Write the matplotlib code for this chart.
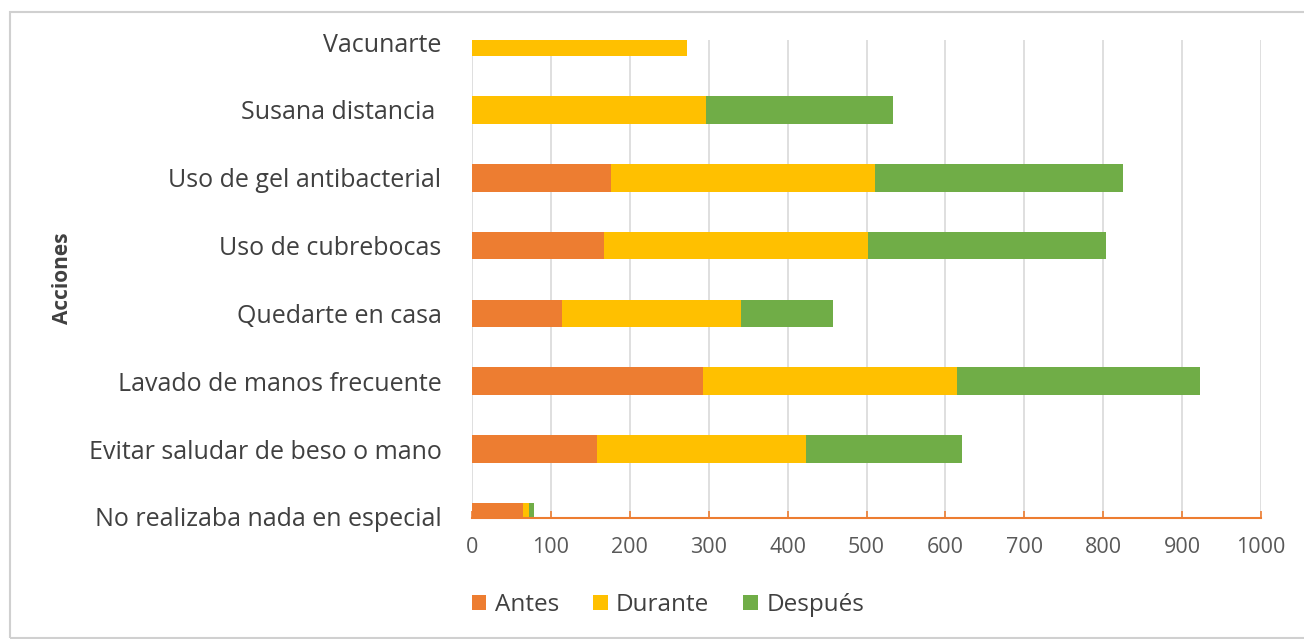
import matplotlib
matplotlib.use("Agg")
import matplotlib.pyplot as plt
from matplotlib.patches import Rectangle
import numpy as np

categories = ["No realizaba nada en especial", "Evitar saludar de beso o mano",
              "Lavado de manos frecuente", "Quedarte en casa", "Uso de cubrebocas",
              "Uso de gel antibacterial", "Susana distancia ", "Vacunarte"]
antes = [65, 158, 293, 114, 167, 176, 0, 0]
durante = [7, 265, 322, 227, 335, 335, 297, 272]
despues = [7, 198, 308, 117, 301, 314, 237, 0]
series_names = ["Antes", "Durante", "Después"]
colors = ["#ED7D31", "#FFC000", "#70AD47"]
xticks = list(range(0, 1001, 100))

plt.rcParams['font.family'] = ['Open Sans', 'DejaVu Sans']

fig = plt.figure(figsize=(13.04, 6.39), dpi=100)
W, H = 1304, 639
ax = fig.add_axes([472 / W, 1 - 518 / H, (1261 - 472) / W, (518 - 40) / H])

y = np.arange(len(categories))
h = 0.41
a = np.array(antes); d = np.array(durante); s = np.array(despues)
ax.barh(y, a, height=h, color=colors[0], label=series_names[0], zorder=3)
ax.barh(y, d, left=a, height=h, color=colors[1], label=series_names[1], zorder=3)
ax.barh(y, s, left=a + d, height=h, color=colors[2], label=series_names[2], zorder=3)

ax.set_xlim(0, 1000)
ax.set_ylim(-0.015, 7.03)
ax.set_xticks(xticks)
ax.set_yticks(y)
ax.set_yticklabels(categories, fontsize=18, color="#404040")
ax.tick_params(axis='y', length=0, pad=22)
ax.tick_params(axis='x', labelsize=15.5, colors="#ED7D31", labelcolor="#595959",
               direction='in', length=5, width=1.2, pad=14)
ax.grid(axis='x', color="#D9D9D9", linewidth=1.2, zorder=0)
for sp in ["top", "right", "left"]:
    ax.spines[sp].set_visible(False)
ax.spines["bottom"].set_color("#ED7D31")
ax.spines["bottom"].set_linewidth(1.5)
ax.spines["bottom"].set_zorder(4)

fig.text(62 / W, 1 - 278 / H, "Acciones", rotation=90, fontsize=15, fontweight='bold',
         color="#404040", ha='center', va='center')

leg = fig.legend(loc='center', bbox_to_anchor=(668 / W, 1 - 605 / H), ncol=3,
                 frameon=False, fontsize=17.5, handlelength=0.6, handleheight=0.6,
                 handletextpad=0.35, columnspacing=1.4)
for t in leg.get_texts():
    t.set_color("#404040")

fig.patches.append(Rectangle((10 / W, 1 - 638 / H), 1.0, (638 - 12) / H,
                             transform=fig.transFigure, fill=False,
                             edgecolor="#D0D0D0", linewidth=1.5))

fig.savefig("out.png", dpi=100)
